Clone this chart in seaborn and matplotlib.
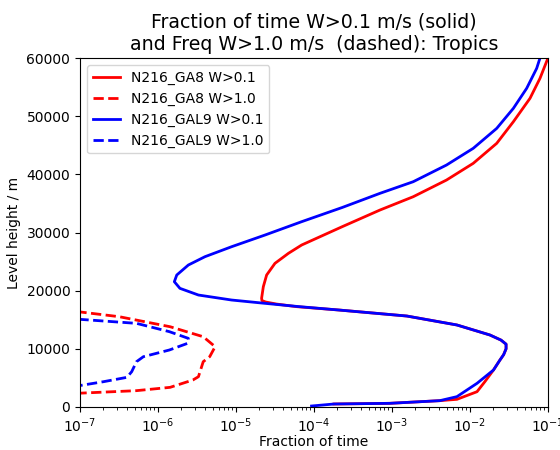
import matplotlib
matplotlib.use("Agg")
import matplotlib.pyplot as plt
from matplotlib.ticker import LogLocator, NullFormatter
import seaborn as sns
import pandas as pd

# GA8 W>0.1 (solid red)
ga8_w01_h = [515, 630, 1090, 1320, 2630, 4350, 6360, 8000, 9000, 10000, 10800, 11500, 12380,
             14100, 15640, 16670, 17250, 17700, 18050, 18300, 18700, 20680, 22690, 24700,
             26420, 27850, 31000, 33860, 36150, 39020, 41890, 45330, 49050, 53070, 56500,
             60000]
ga8_w01_x = [1.8e-4, 9.3e-4, 4.1e-3, 6.8e-3, 1.23e-2, 1.55e-2, 2.0e-2, 2.4e-2, 2.7e-2, 2.9e-2,
             2.9e-2, 2.5e-2, 1.8e-2, 6.8e-3, 1.55e-3, 2.1e-4, 6.0e-5, 3.3e-5, 2.4e-5, 2.15e-5,
             2.13e-5, 2.24e-5, 2.47e-5, 3.16e-5, 4.7e-5, 6.95e-5, 2.3e-4, 7.0e-4, 1.87e-3,
             5.0e-3, 1.1e-2, 2.2e-2, 3.6e-2, 5.88e-2, 7.89e-2, 0.1]

# GA8 W>1.0 (dashed red)
ga8_w10_h = [2350, 2810, 3380, 4640, 5210, 7790, 8650, 10370, 12080, 13800, 15520, 16500]
ga8_w10_x = [9e-8, 5.3e-7, 1.43e-6, 2.8e-6, 3.3e-6, 3.8e-6, 4.6e-6, 5.4e-6, 3.8e-6, 1.43e-6,
             3.2e-7, 8e-8]

# GAL9 W>0.1 (solid blue)
gal9_w01_h = [170, 515, 630, 1090, 1780, 4070, 6360, 8000, 9000, 10000, 10800, 11500, 12380,
              14100, 15640, 16670, 17250, 17820, 18390, 19250, 20400, 21540, 22690, 24410,
              25840, 27560, 29570, 31860, 34300, 36730, 38730, 41600, 44470, 47900, 51350,
              54790, 58220, 60000]
gal9_w01_x = [9.3e-5, 1.8e-4, 9.3e-4, 4.1e-3, 6.8e-3, 1.23e-2, 2.0e-2, 2.4e-2, 2.7e-2, 2.9e-2,
              2.9e-2, 2.5e-2, 1.8e-2, 6.8e-3, 1.55e-3, 2.1e-4, 6.5e-5, 2.36e-5, 8.8e-6, 3.3e-6,
              1.91e-6, 1.62e-6, 1.74e-6, 2.45e-6, 4.0e-6, 8.8e-6, 2.36e-5, 6.95e-5, 2.3e-4,
              7.0e-4, 1.87e-3, 5.0e-3, 1.1e-2, 2.2e-2, 3.6e-2, 5.33e-2, 7.16e-2, 7.9e-2]

# GAL9 W>1.0 (dashed blue)
gal9_w10_h = [3500, 3780, 4350, 5100, 6070, 7790, 8650, 9800, 10950, 11800, 12950, 14380,
              15070]
gal9_w10_x = [8e-8, 1.1e-7, 2.0e-7, 4.0e-7, 4.6e-7, 5.3e-7, 6.5e-7, 1.4e-6, 2.4e-6, 2.45e-6,
              1.4e-6, 5.3e-7, 1.0e-7]

labels = ["N216_GA8 W>0.1", "N216_GA8 W>1.0", "N216_GAL9 W>0.1", "N216_GAL9 W>1.0"]

series = [
    (ga8_w01_x, ga8_w01_h, "red", "-", labels[0]),
    (ga8_w10_x, ga8_w10_h, "red", "--", labels[1]),
    (gal9_w01_x, gal9_w01_h, "blue", "-", labels[2]),
    (gal9_w10_x, gal9_w10_h, "blue", "--", labels[3]),
]

fig = plt.figure(figsize=(5.6, 4.5), dpi=100)
ax = fig.add_axes([80/560, 1-407/450, (548-80)/560, (407-58)/450])

for xs, hs, col, ls, lab in series:
    df = pd.DataFrame({"x": xs, "h": hs})
    sns.lineplot(data=df, x="x", y="h", sort=False, estimator=None, color=col,
                 linestyle=ls, linewidth=2, label=lab, ax=ax)

ax.set_xscale("log")
ax.set_xlim(1e-7, 1e-1)
ax.set_ylim(0, 60000)
ax.xaxis.set_major_locator(LogLocator(base=10, numticks=20))
ax.xaxis.set_minor_locator(LogLocator(base=10, subs=range(2, 10), numticks=100))
ax.xaxis.set_minor_formatter(NullFormatter())
ax.set_yticks([0, 10000, 20000, 30000, 40000, 50000, 60000])
ax.set_xlabel("Fraction of time", labelpad=0)
ax.set_ylabel("Level height / m")
ax.set_title("Fraction of time W>0.1 m/s (solid)\nand Freq W>1.0 m/s  (dashed): Tropics",
             fontsize=13.7)
ax.legend(loc="upper left")

fig.savefig("out.png", dpi=100)
